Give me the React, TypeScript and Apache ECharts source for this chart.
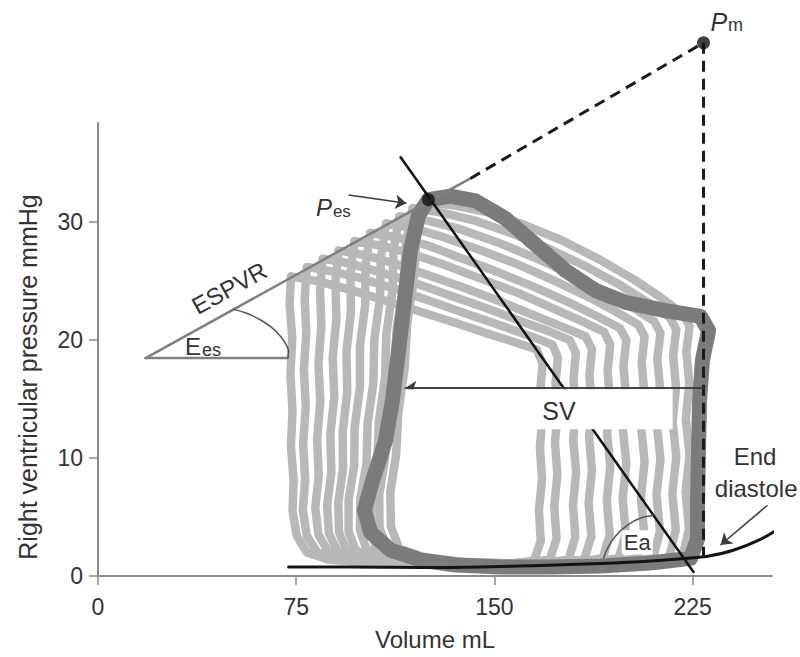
import React, { useEffect, useRef } from "react";
import * as echarts from "echarts";

// ---------- axis ticks ----------
const xTickValues = [0, 75, 150, 225];
const yTickValues = [0, 10, 20, 30];

// ---------- pressure-volume loops (volume mL, pressure mmHg) ----------
const darkLoop = [
  [125.0, 31.9], [133.4, 32.2], [142.8, 31.8], [154.2, 30.3], [165.5, 28.1], [176.9, 25.9],
  [188.2, 24.2], [199.6, 23.2], [214.7, 22.5], [228.0, 22.0], [231.0, 20.8], [228.7, 18.3],
  [227.6, 14.9], [227.2, 10.7], [226.8, 6.4], [226.8, 3.1], [224.2, 1.5], [209.0, 1.1],
  [190.1, 0.85], [171.2, 0.76], [152.3, 0.76], [135.3, 0.93], [122.0, 1.36], [110.7, 2.2],
  [103.1, 3.7], [100.8, 5.6], [103.9, 8.1], [108.8, 11.5], [111.4, 14.9], [113.7, 19.1],
  [116.0, 23.4], [118.2, 27.6], [121.3, 30.6], [125.0, 31.9],
];

const lightLoop1 = [
  [73, 25.4], [72.5, 23.0], [73.5, 20.2], [72.8, 17.1], [73.6, 14.0], [73.0, 11.0], [74.0, 8.1],
  [73.6, 5.5], [75.2, 3.4], [79, 2.0], [87, 1.4], [100, 1.15], [120, 1.05], [140, 1.0], [158, 1.1],
  [165, 1.3], [167.5, 3.0], [166.8, 5.6], [168.0, 8.2], [167.2, 10.9], [168.1, 13.5], [167.4, 15.9],
  [168.2, 18.0], [166, 19.2], [158, 19.8], [148, 20.5], [136, 21.4], [122, 22.4], [108, 23.4],
  [95, 24.3], [83, 25.0], [73, 25.4],
];
const lightLoop2 = [
  [79, 26.2], [78.2, 23.5], [78.8, 20.6], [77.9, 17.5], [78.6, 14.4], [77.6, 11.2], [78.4, 8.2],
  [77.5, 5.6], [79, 3.4], [83, 2.0], [91, 1.45], [105, 1.2], [125, 1.05], [145, 1.0], [163, 1.15],
  [171, 1.4], [173.5, 3.2], [172.6, 5.9], [173.8, 8.6], [172.9, 11.3], [173.9, 13.9], [173.1, 16.4],
  [174, 18.5], [172, 19.6], [164, 20.3], [154, 21.1], [141, 22.1], [127, 23.2], [113, 24.3],
  [100, 25.2], [89, 25.8], [79, 26.2],
];
const lightLoop3 = [
  [85, 26.9], [84, 24.2], [84.5, 21.2], [83.4, 18.0], [84.1, 14.8], [82.9, 11.6], [83.5, 8.5],
  [82.2, 5.8], [83.4, 3.5], [87, 2.1], [95, 1.5], [110, 1.2], [130, 1.05], [150, 1.0], [170, 1.15],
  [178, 1.4], [180.6, 3.3], [179.7, 6.0], [180.9, 8.8], [179.8, 11.5], [180.7, 14.1], [179.9, 16.7],
  [180.8, 18.9], [178.5, 20.0], [170, 20.8], [160, 21.6], [147, 22.7], [133, 23.8], [119, 24.9],
  [106, 25.8], [95, 26.5], [85, 26.9],
];
const lightLoop4 = [
  [91, 27.6], [89.8, 24.9], [90.2, 21.8], [88.8, 18.5], [89.4, 15.2], [87.9, 12.0], [88.3, 8.8],
  [86.7, 6.0], [87.4, 3.6], [90.6, 2.1], [98, 1.5], [113, 1.2], [133, 1.05], [155, 1.0], [175, 1.15],
  [184, 1.45], [186.7, 3.4], [185.6, 6.2], [186.9, 9.0], [185.8, 11.8], [186.8, 14.5], [185.9, 17.0],
  [186.9, 19.2], [184.5, 20.3], [176, 21.1], [166, 22.0], [153, 23.2], [139, 24.4], [125, 25.5],
  [112, 26.5], [101, 27.2], [91, 27.6],
];
const lightLoop5 = [
  [97, 28.4], [95.5, 25.6], [95.7, 22.4], [94.0, 19.0], [94.3, 15.6], [92.6, 12.3], [92.7, 9.1],
  [90.9, 6.2], [91.2, 3.7], [94, 2.2], [101, 1.55], [116, 1.2], [136, 1.05], [160, 1.0], [182, 1.2],
  [191, 1.5], [193.6, 3.5], [192.5, 6.4], [193.8, 9.3], [192.6, 12.1], [193.7, 14.9], [192.8, 17.4],
  [193.8, 19.6], [191.5, 20.7], [183, 21.6], [173, 22.6], [160, 23.9], [146, 25.1], [132, 26.3],
  [119, 27.3], [107, 28.0], [97, 28.4],
];
const lightLoop6 = [
  [103, 29.1], [101.2, 26.3], [101.1, 23.0], [99.1, 19.5], [99.1, 16.0], [97.1, 12.6], [96.9, 9.3],
  [94.8, 6.4], [94.8, 3.8], [97.4, 2.2], [104, 1.55], [119, 1.2], [140, 1.05], [165, 1.0], [188, 1.2],
  [197, 1.5], [199.7, 3.6], [198.5, 6.6], [199.9, 9.5], [198.6, 12.4], [199.8, 15.2], [198.8, 17.8],
  [199.9, 20.0], [197.5, 21.0], [189, 22.0], [179, 23.1], [166, 24.4], [152, 25.7], [138, 26.9],
  [125, 28.0], [113, 28.7], [103, 29.1],
];
const lightLoop7 = [
  [109, 29.9], [107, 27.0], [106.7, 23.6], [104.5, 20.0], [104.2, 16.4], [102, 12.9], [101.6, 9.6],
  [99.3, 6.6], [99.1, 3.9], [101.5, 2.3], [108, 1.6], [123, 1.2], [145, 1.05], [170, 1.0], [194, 1.2],
  [204, 1.5], [206.6, 3.7], [205.4, 6.7], [206.8, 9.7], [205.5, 12.6], [206.7, 15.5], [205.7, 18.1],
  [206.8, 20.3], [204.4, 21.3], [196, 22.4], [186, 23.6], [173, 25.0], [159, 26.4], [145, 27.6],
  [131, 28.7], [119, 29.5], [109, 29.9],
];
const lightLoop8 = [
  [114, 30.5], [111.8, 27.6], [111.4, 24.2], [109.1, 20.5], [108.6, 16.8], [106.3, 13.2], [105.7, 9.8],
  [103.3, 6.8], [103, 4.0], [105.4, 2.3], [112, 1.6], [127, 1.2], [149, 1.05], [175, 1.0], [200, 1.2],
  [210, 1.5], [212.6, 3.8], [211.3, 6.9], [212.8, 9.9], [211.4, 12.9], [212.7, 15.8], [211.6, 18.4],
  [212.8, 20.6], [210.4, 21.6], [202, 22.8], [192, 24.1], [179, 25.6], [165, 27.0], [151, 28.3],
  [137, 29.4], [125, 30.1], [114, 30.5],
];
const lightLoop9 = [
  [119, 31.2], [116.5, 28.2], [115.6, 24.7], [113, 21.0], [112, 17.2], [109.6, 13.5], [108.6, 10.0],
  [106.4, 6.9], [106.5, 4.1], [109.5, 2.3], [118, 1.6], [133, 1.2], [155, 1.05], [180, 1.0], [205, 1.2],
  [216, 1.5], [218.6, 3.9], [217.3, 7.0], [218.8, 10.1], [217.4, 13.1], [218.7, 16.0], [217.6, 18.7],
  [218.8, 20.9], [216.4, 21.9], [208, 23.2], [198, 24.6], [185, 26.2], [171, 27.7], [157, 29.0],
  [143, 30.1], [130, 30.8], [119, 31.2],
];
const lightLoop10 = [
  [123, 31.7], [120.5, 28.7], [119.5, 25.2], [117, 21.4], [116, 17.6], [113.6, 13.8], [112.8, 10.3],
  [110.6, 7.1], [110.8, 4.2], [114, 2.3], [123, 1.6], [138, 1.2], [160, 1.05], [185, 1.0], [210, 1.2],
  [221, 1.5], [223.6, 4.0], [222.3, 7.1], [223.8, 10.3], [222.4, 13.3], [223.7, 16.3], [222.6, 19.0],
  [223.8, 21.2], [221.4, 22.2], [213, 23.6], [203, 25.1], [190, 26.8], [176, 28.4], [162, 29.7],
  [148, 30.8], [135, 31.4], [123, 31.7],
];
const lightLoops = [
  lightLoop1, lightLoop2, lightLoop3, lightLoop4, lightLoop5,
  lightLoop6, lightLoop7, lightLoop8, lightLoop9, lightLoop10,
];

// ---------- relations & annotation lines ----------
const edpvrCurve = [
  [72.1, 0.76], [95.5, 0.76], [122, 0.72], [144.7, 0.76], [167.4, 0.89], [190.1, 1.06],
  [209, 1.27], [224.2, 1.53], [231.1, 1.69], [240.6, 2.2], [250.6, 3.1], [258.2, 4.1], [265.8, 5.3],
];
const espvrSolid = [[18.0, 18.47], [140.9, 33.7]];
const espvrBase = [[18.0, 18.47], [71.8, 18.47]];
const eesArc = [[51.3, 22.6], [56.5, 22.25], [61.5, 21.7], [65.8, 21.05], [69.1, 20.3], [71.2, 19.6], [72.1, 19.0], [71.8, 18.47]];
const eaLine = [[114.5, 35.5], [225.3, 0.34]];
const eaArc = [[191.3, 1.53], [192.8, 2.37], [195.8, 3.39], [200.3, 4.32], [205.3, 4.92], [210.2, 5.13]];
const pmDashed = [[140.9, 33.7], [229.1, 45.2]];
const pmVertical = [[229.1, 45.2], [229.1, 1.6]];
const pesPoint = [125.0, 31.9];
const pmPoint = [229.1, 45.2];
const svArrow = [[229.1, 15.93], [116.3, 15.93]];
const pesArrow = [[94.8, 32.3], [116.7, 31.6]];
const edArrow = [[253.3, 6.0], [235.5, 2.63]];
const svBox = [116.6, 15.82, 217.4, 12.45];

export default function App() {
  const ref = useRef<HTMLDivElement>(null);
  useEffect(() => {
    const chart = echarts.init(ref.current as HTMLDivElement, null, { renderer: "svg" });
    const font = "'Liberation Sans', Arial, Helvetica, sans-serif";
    const txtColor = "#333";
    const ls = (data: number[][], color: string, width: number, z: number, extra: any = {}) => ({
      type: "line",
      data,
      symbol: "none",
      showSymbol: false,
      clip: false,
      silent: true,
      z,
      lineStyle: { color, width, join: "round", cap: "round", ...(extra.lineStyle || {}) },
      ...Object.fromEntries(Object.entries(extra).filter(([k]) => k !== "lineStyle")),
    });

    const series: any[] = [
      ...lightLoops.map((l) => ls(l, "#b8b8b8", 8.5, 2)),
      ls(darkLoop, "#7b7b7b", 15, 3),
      ls(eaLine, "#141414", 2.5, 4),
      ls(edpvrCurve, "#141414", 3, 4, { smooth: 0.3 }),
      ls(espvrSolid, "#808080", 2.5, 4),
      ls(espvrBase, "#808080", 2.5, 4),
      ls(eesArc, "#555", 1.5, 4, { smooth: 0.4 }),
      ls(eaArc, "#555", 1.5, 4, { smooth: 0.4 }),
      ls(pmDashed, "#1a1a1a", 3, 4, { lineStyle: { type: [11, 7], cap: "butt" } }),
      ls(pmVertical, "#1a1a1a", 3, 4, { lineStyle: { type: [11, 7], cap: "butt" } }),
      {
        type: "custom",
        z: 5,
        silent: true,
        data: [svBox],
        renderItem: (_p: any, api: any) => {
          const a = api.coord([api.value(0), api.value(1)]);
          const b = api.coord([api.value(2), api.value(3)]);
          return {
            type: "rect",
            shape: { x: a[0], y: a[1], width: b[0] - a[0], height: b[1] - a[1] },
            style: { fill: "#ffffff" },
          };
        },
      },
      {
        ...ls(svArrow, "#3a3a3a", 1.5, 6),
        markLine: {
          silent: true,
          symbol: ["none", "arrow"],
          symbolSize: 11,
          label: { show: false },
          lineStyle: { color: "#3a3a3a", width: 1.5, type: "solid" },
          data: [
            [{ coord: svArrow[0] }, { coord: svArrow[1] }],
            [{ coord: pesArrow[0] }, { coord: pesArrow[1] }],
            [{ coord: edArrow[0] }, { coord: edArrow[1] }],
          ],
        },
      },
      {
        type: "scatter",
        data: [pesPoint, pmPoint],
        symbolSize: 13,
        itemStyle: { color: "#111" },
        clip: false,
        silent: true,
        z: 7,
      },
    ];

    chart.setOption({
      animation: false,
      grid: { left: 98, right: 28, top: 123, bottom: 81 },
      xAxis: {
        type: "value",
        min: 0,
        max: 255,
        interval: 75,
        name: "Volume mL",
        nameLocation: "middle",
        nameGap: 51,
        nameTextStyle: { fontSize: 24, color: txtColor, fontFamily: font },
        axisLine: { lineStyle: { color: "#8a8a8a", width: 2 } },
        axisTick: { show: true, length: 9, customValues: xTickValues, lineStyle: { color: "#8a8a8a", width: 1.5 } },
        axisLabel: { customValues: xTickValues, margin: 19, fontSize: 23, color: txtColor, fontFamily: font },
        splitLine: { show: false },
      },
      yAxis: {
        type: "value",
        min: 0,
        max: 38.4,
        interval: 10,
        axisLine: { show: true, lineStyle: { color: "#8a8a8a", width: 2 } },
        axisTick: { show: true, length: 9, customValues: yTickValues, lineStyle: { color: "#8a8a8a", width: 1.5 } },
        axisLabel: { customValues: yTickValues, margin: 15, fontSize: 23, color: txtColor, fontFamily: font },
        splitLine: { show: false },
      },
      series,
    });

    const P = (v: number, p: number) => chart.convertToPixel({ gridIndex: 0 }, [v, p]) as number[];
    const t = (pos: number[], text: string, size: number, style: any = {}, el: any = {}) => ({
      type: "text",
      x: pos[0],
      y: pos[1],
      z: 100,
      silent: true,
      ...el,
      style: {
        text,
        fontSize: size,
        fontFamily: font,
        fill: txtColor,
        align: "center",
        verticalAlign: "middle",
        ...style,
      },
    });

    const pesAnchor = P(88.5, 30.18);
    const pmAnchor = P(238, 45.94);
    const eesAnchor = P(39.0, 18.4);
    const e1 = P(espvrSolid[0][0], espvrSolid[0][1]);
    const e2 = P(espvrSolid[1][0], espvrSolid[1][1]);
    const espvrAngle = Math.atan2(e1[1] - e2[1], e2[0] - e1[0]);

    chart.setOption({
      graphic: [
        t(pesAnchor, "P", 24, { align: "right", verticalAlign: "bottom", fontStyle: "italic" }),
        t([pesAnchor[0] + 1, pesAnchor[1]], "es", 17, { align: "left", verticalAlign: "bottom" }),
        t(pmAnchor, "P", 25, { align: "right", verticalAlign: "bottom", fontStyle: "italic" }),
        t([pmAnchor[0] + 1, pmAnchor[1]], "m", 18, { align: "left", verticalAlign: "bottom" }),
        t(eesAnchor, "E", 24, { align: "right", verticalAlign: "bottom" }),
        t([eesAnchor[0] + 1, eesAnchor[1]], "es", 18, { align: "left", verticalAlign: "bottom" }),
        t(P(49.6, 24.4), "ESPVR", 24, {}, { rotation: espvrAngle }),
        t(P(174.4, 13.97), "SV", 25),
        t(P(204.0, 2.85), "Ea", 22, { backgroundColor: "#ffffff", padding: [1, 2] }),
        t(P(248.6, 10.13), "End", 24),
        t(P(249.0, 7.42), "diastole", 24),
        t([28, 377], "Right ventricular pressure mmHg", 25, {}, { rotation: Math.PI / 2 }),
      ],
    });

    return () => chart.dispose();
  }, []);

  return (
    <div
      ref={ref}
      style={{ position: "fixed", left: 0, top: 0, width: 800, height: 657, background: "#fff" }}
    />
  );
}
